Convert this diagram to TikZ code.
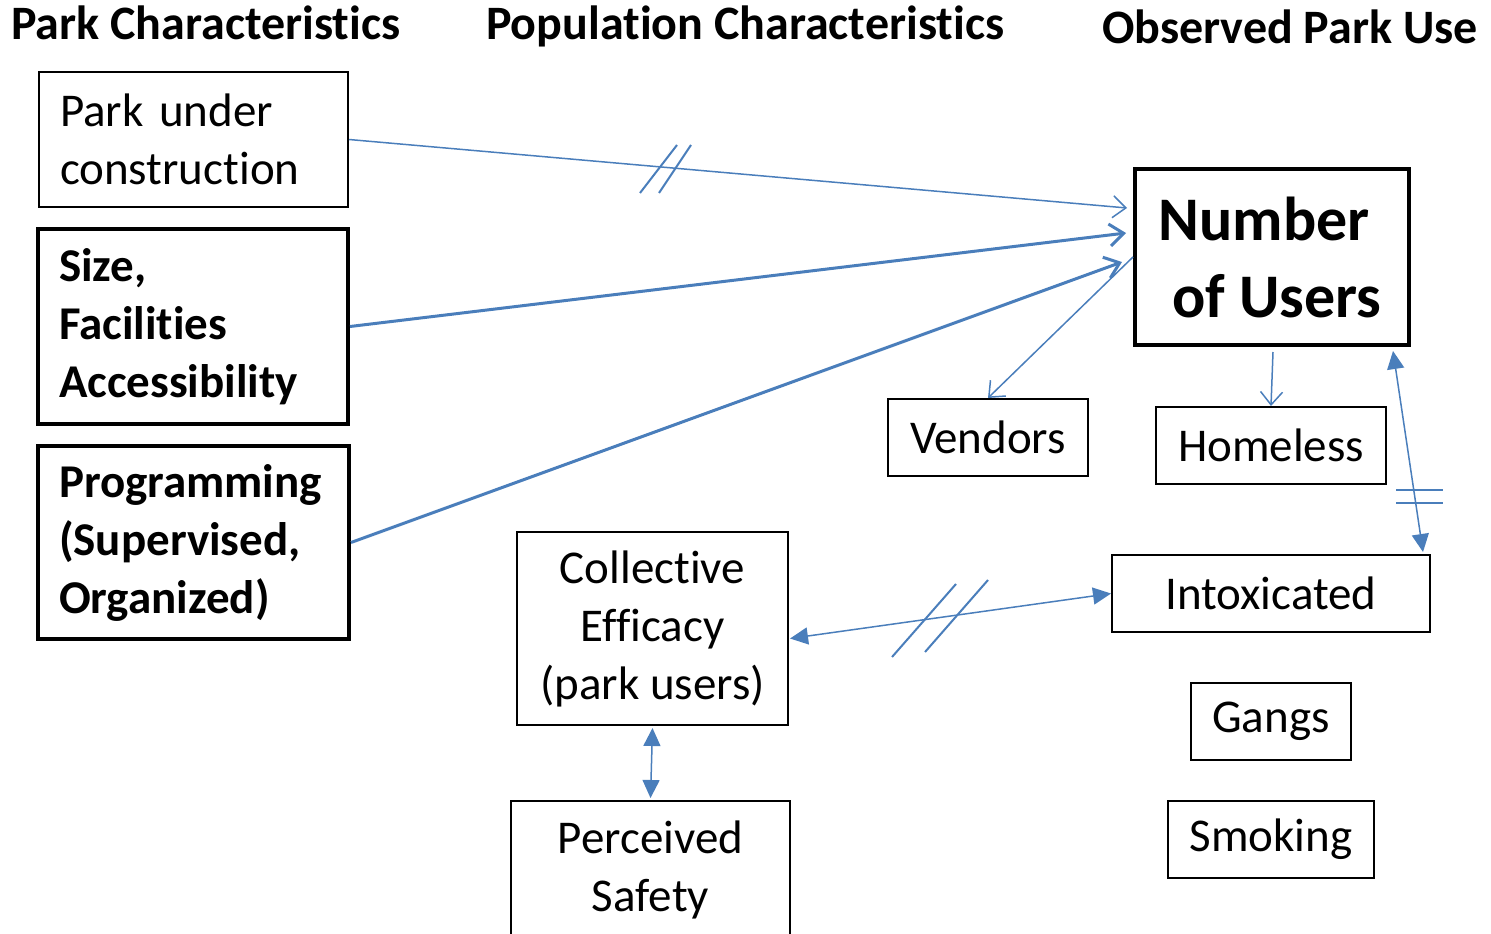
\documentclass[tikz,border=0pt]{standalone}
\usepackage{fontspec}
\setmainfont{Carlito}[RawFeature=-liga]
\usetikzlibrary{arrows.meta,calc}
\definecolor{ln}{RGB}{74,126,187}
\begin{document}
\begin{tikzpicture}[x=1pt,y=-1pt,
  thinbox/.style={draw=black, line width=2pt, inner sep=0pt, anchor=north west, align=center,
    font=\fontsize{47}{58}\selectfont},
  thickbox/.style={thinbox, line width=4pt, font=\fontsize{47}{58}\selectfont\bfseries},
  lefttext/.style={align=left, inner xsep=21pt},
  ttl/.style={inner sep=0pt, anchor=base west, font=\fontsize{48}{58}\selectfont\bfseries},
  conn/.style={draw=ln, line width=1.5pt},
  bold conn/.style={draw=ln, line width=3pt},
  openhead/.style={-{Straight Barb[length=13pt,width=22pt]}},
  bigopenhead/.style={-{Straight Barb[length=14pt,width=22pt]}},
  filled/.style={{Triangle[length=18pt,width=17pt]}-{Triangle[length=18pt,width=17pt]}},
  brk/.style={draw=ln, line width=2pt}
]
\useasboundingbox (0,0) rectangle (1491,934);
\clip (0,0) rectangle (1491,934);

% titles
\node[ttl] (t1) at (11,40) {Park Characteristics};
\node[ttl] (t2) at (486,40) {Population Characteristics};
\node[ttl] (t3) at (1102,44) {Observed Park Use};

% left column
\node[thinbox, lefttext, text width=267pt, minimum height=135pt] (park) at (38,71)
  {Park under\\construction};
\node[thickbox, lefttext, text width=268pt, minimum height=195pt] (size) at (36,227)
  {Size,\\Facilities\\Accessibility};
\node[thickbox, lefttext, text width=269pt, minimum height=193pt] (prog) at (36,444)
  {Programming\\(Supervised,\\Organized)};

% middle column
\node[thinbox, minimum width=271pt, minimum height=193pt] (coll) at (516,531)
  {Collective\\Efficacy\\(park users)};
\node[thinbox, minimum width=279pt, minimum height=138pt] (perc) at (510,800)
  {Perceived\\Safety};

% right column
\node[thickbox, minimum width=274pt, minimum height=176pt,
  font=\fontsize{62}{77}\selectfont\bfseries] (num) at (1133,167)
  {Number\hspace*{16pt}\\\hspace*{10pt}of Users};
\node[thinbox, minimum width=200pt, minimum height=77pt] (vend) at (887,398) {Vendors};
\node[thinbox, minimum width=230pt, minimum height=77pt] (home) at (1155,406) {Homeless};
\node[thinbox, minimum width=318pt, minimum height=77pt] (intox) at (1111,554) {Intoxicated};
\node[thinbox, minimum width=160pt, minimum height=77pt] (gang) at (1190,682) {Gangs};
\node[thinbox, minimum width=206pt, minimum height=77pt] (smok) at (1167,800) {Smoking};

% connectors
\draw[conn, openhead] (park.east) -- ([shift={(-6,-49)}]num.west);
\draw[bold conn, bigopenhead] (size.east) -- ([shift={(-7,-24)}]num.west);
\draw[bold conn, bigopenhead] (prog.east) -- ([shift={(-11,5)}]num.west);
\draw[conn, openhead] (num.west) -- (vend.north);
\draw[conn, openhead] ([shift={(1,5)}]num.south) -- (home.north);
\draw[conn, filled] ([shift={(-18,4)}]num.south east) -- ([shift={(-8,-2)}]intox.north east);
\draw[conn, filled] ([shift={(1,10)}]coll.east) -- (intox.west);
\draw[conn, filled] ([shift={(0,2)}]coll.south) -- ([shift={(0,-2)}]perc.north);

% break marks
\draw[brk] (640,193) -- (677,145);
\draw[brk] (659,193) -- (691,145);
\draw[brk] (1396,490) -- (1443,490);
\draw[brk] (1396,503) -- (1443,503);
\draw[brk] (892,657) -- (956,584);
\draw[brk] (925,652) -- (988,580);
\end{tikzpicture}
\end{document}
